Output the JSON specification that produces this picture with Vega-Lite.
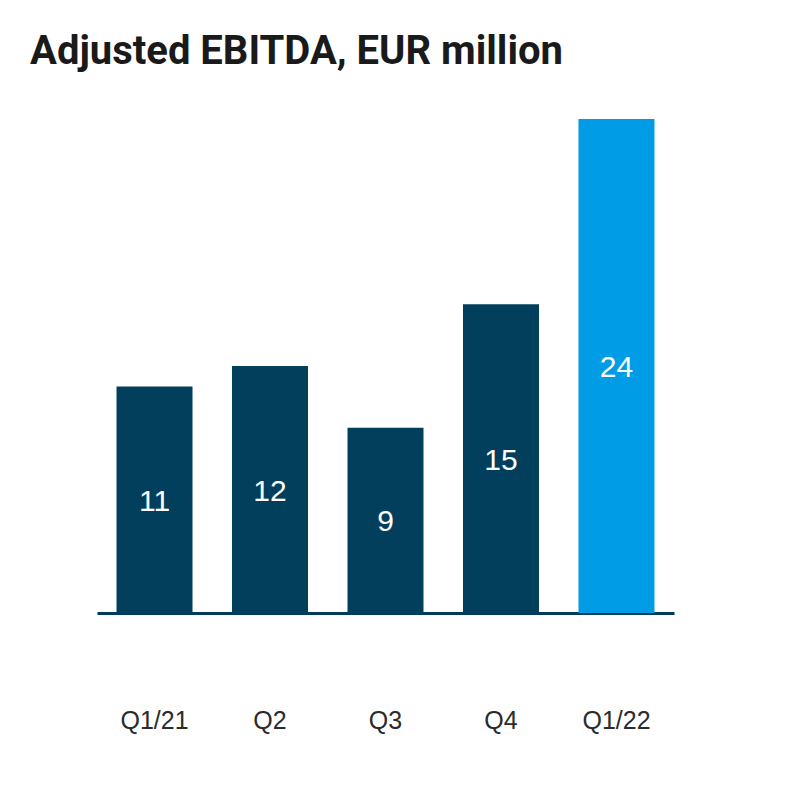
{
  "$schema": "https://vega.github.io/schema/vega-lite/v6.json",
  "autosize": "none",
  "width": 577,
  "height": 494,
  "padding": {"left": 97, "top": 119, "right": 111, "bottom": 196},
  "background": "white",
  "title": {
    "text": "Adjusted EBITDA, EUR million",
    "anchor": "start",
    "frame": "group",
    "font": "Roboto",
    "fontWeight": "bold",
    "fontSize": 40,
    "color": "#1a1a1a",
    "dx": -67,
    "offset": 47
  },
  "data": {
    "values": [
      {"quarter": "Q1/21", "value": 11, "group": "past"},
      {"quarter": "Q2", "value": 12, "group": "past"},
      {"quarter": "Q3", "value": 9, "group": "past"},
      {"quarter": "Q4", "value": 15, "group": "past"},
      {"quarter": "Q1/22", "value": 24, "group": "current"}
    ]
  },
  "encoding": {
    "x": {
      "field": "quarter",
      "type": "nominal",
      "sort": null,
      "scale": {"paddingInner": 0.342, "paddingOuter": 0.169},
      "axis": {
        "title": null,
        "labelAngle": 0,
        "ticks": false,
        "domainColor": "#003b5a",
        "domainWidth": 3,
        "labelFont": "Liberation Sans",
        "labelFontSize": 25,
        "labelColor": "#2b2b2b",
        "labelPadding": 95,
        "grid": false
      }
    }
  },
  "layer": [
    {
      "mark": {"type": "bar"},
      "encoding": {
        "y": {"field": "value", "type": "quantitative", "scale": {"domain": [0, 24], "nice": false, "zero": true}, "axis": null},
        "color": {"field": "group", "type": "nominal", "scale": {"domain": ["past", "current"], "range": ["#023f5d", "#009de6"]}, "legend": null}
      }
    },
    {
      "mark": {"type": "text", "color": "white", "font": "Liberation Sans", "fontSize": 30, "baseline": "middle", "dy": 2},
      "encoding": {
        "y": {"field": "value", "type": "quantitative", "scale": {"domain": [0, 48], "nice": false, "zero": true}, "axis": null},
        "text": {"field": "value", "type": "quantitative"}
      }
    }
  ],
  "resolve": {"scale": {"y": "independent"}},
  "config": {"view": {"stroke": null}}
}
